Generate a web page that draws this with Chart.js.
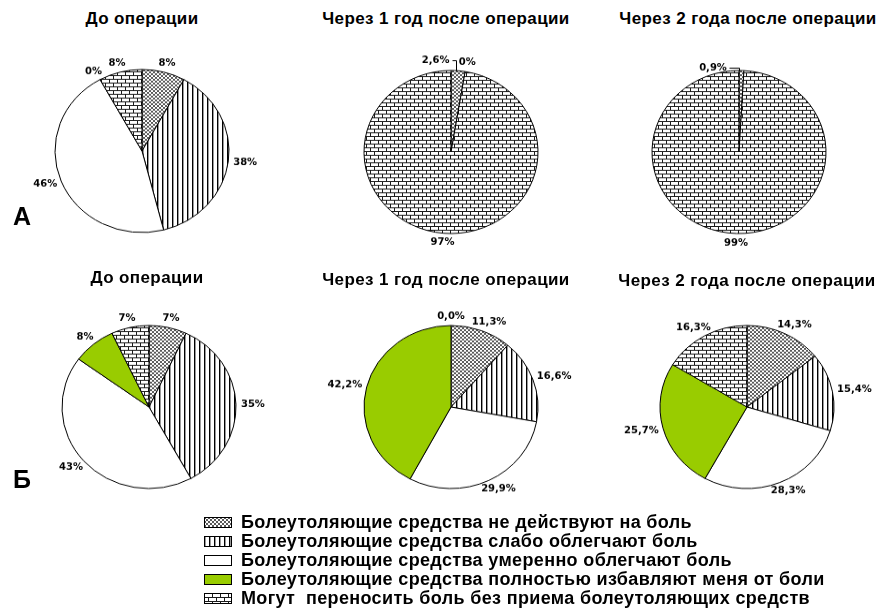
<!DOCTYPE html>
<html><head><meta charset="utf-8">
<script src="https://cdn.jsdelivr.net/npm/chart.js@4.4.1/dist/chart.umd.min.js"></script>
<style>
html,body{margin:0;padding:0;background:#fff;}
#page{position:relative;width:878px;height:615px;overflow:hidden;font-family:"Liberation Sans",Arial,sans-serif;color:#000;background:#fff;}
.title{position:absolute;width:340px;text-align:center;font-weight:bold;font-size:17px;letter-spacing:0.4px;line-height:20px;white-space:nowrap;}
.big{position:absolute;font-weight:bold;font-size:25px;line-height:28px;}
canvas.pie{position:absolute;transform:scale(1,0.937);transform-origin:50% 50%;}
.leg{position:absolute;left:204px;height:19px;width:670px;}
.leg canvas{position:absolute;left:0;top:4px;}
.leg span{position:absolute;left:37px;top:0;font-weight:bold;font-size:18px;white-space:pre;line-height:19px;letter-spacing:0.35px;}
</style>
</head><body>
<div id="page"></div>
<script>
// ---- data ----
const categories = [
  'Болеутоляющие средства не действуют на боль',
  'Болеутоляющие средства слабо облегчают боль',
  'Болеутоляющие средства умеренно облегчают боль',
  'Болеутоляющие средства полностью избавляют меня от боли',
  'Могут  переносить боль без приема болеутоляющих средств'
];
const titles = ['До операции', 'Через 1 год после операции', 'Через 2 года после операции'];
const groupLetters = ['А', 'Б'];

const valuesA0 = [8, 38, 46, 0, 8];
const valuesA1 = [2.6, 0, 0, 0, 97.4];
const valuesA2 = [0.9, 0, 0, 0, 99.1];
const valuesB0 = [7, 35, 43, 8, 7];
const valuesB1 = [11.3, 16.6, 29.9, 42.2, 0];
const valuesB2 = [14.3, 15.4, 28.3, 25.7, 16.3];

const labelsA0 = ['8%', '38%', '46%', '0%', '8%'];
const labelsA1 = ['2,6%', '0%', '', '', '97%'];
const labelsA2 = ['0,9%', '', '', '', '99%'];
const labelsB0 = ['7%', '35%', '43%', '8%', '7%'];
const labelsB1 = ['11,3%', '16,6%', '29,9%', '42,2%', '0,0%'];
const labelsB2 = ['14,3%', '15,4%', '28,3%', '25,7%', '16,3%'];

// ---- layout (positions only) ----
const panels = [
  {cx:142, cy:150.5, values:valuesA0, labels:labelsA0, title:titles[0], tx:142, ty:19},
  {cx:451, cy:151.5, values:valuesA1, labels:labelsA1, title:titles[1], tx:446, ty:19, shift:{0:{dx:-24, dy:-1}}},
  {cx:738.5, cy:151.5, values:valuesA2, labels:labelsA2, title:titles[2], tx:748, ty:19, shift:{0:{dx:-29, dy:7}}},
  {cx:149, cy:406.5, values:valuesB0, labels:labelsB0, title:titles[0], tx:147, ty:278},
  {cx:450.5, cy:407, values:valuesB1, labels:labelsB1, title:titles[1], tx:446, ty:280},
  {cx:746.5, cy:407, values:valuesB2, labels:labelsB2, title:titles[2], tx:747, ty:281}
];
const RADIUS = 87;
const CW = 290, CH = 250;

// ---- patterns ----
function mkTile(w, h, draw){ const c = document.createElement('canvas'); c.width = w; c.height = h; draw(c.getContext('2d')); return c; }
const tiles = [
  mkTile(4,4,x=>{x.fillStyle='#fff';x.fillRect(0,0,4,4);x.fillStyle='#5a5a5a';x.fillRect(0,0,2,2);x.fillRect(2,2,2,2);}),
  mkTile(5,1,x=>{x.fillStyle='#fff';x.fillRect(0,0,5,1);x.fillStyle='#000';x.fillRect(0,0,1,1);x.fillStyle='#9a9a9a';x.fillRect(1,0,1,1);}),
  null,
  null,
  mkTile(8,8,x=>{x.fillStyle='#fff';x.fillRect(0,0,8,8);x.fillStyle='#1a1a1a';x.fillRect(0,0,8,1);x.fillRect(0,4,8,1);x.fillRect(0,1,1,3);x.fillRect(4,5,1,3);})
];
const solid = [null, null, '#ffffff', '#99cc00', null];
function fills(ctx){ return tiles.map((t,i)=> t ? ctx.createPattern(t,'repeat') : solid[i]); }

// ---- label plugin ----
const pieLabels = {
  id: 'pieLabels',
  afterDatasetsDraw(chart, args, opts){
    const ctx = chart.ctx;
    const meta = chart.getDatasetMeta(0);
    ctx.save();
    ctx.font = 'bold 10px "DejaVu Sans"';
    ctx.fillStyle = '#000';
    ctx.strokeStyle = '#000';
    ctx.lineWidth = 1;
    ctx.textAlign = 'center';
    ctx.textBaseline = 'middle';
    meta.data.forEach((arc, i) => {
      const t = opts.texts[i];
      if (!t) return;
      const p = arc.getProps(['startAngle','endAngle','outerRadius','x','y'], true);
      const mid = (p.startAngle + p.endAngle) / 2;
      const w = ctx.measureText(t).width, h = 10;
      const r = p.outerRadius + opts.gap;
      let lx = p.x + Math.cos(mid) * (r + w / 2);
      let ly = p.y + Math.sin(mid) * (r + h / 2);
      const sh = opts.shift && opts.shift[i];
      if (sh) {
        lx += sh.dx; ly += sh.dy;
        const ex = p.x + Math.cos(mid) * p.outerRadius;
        const ey = p.y + Math.sin(mid) * p.outerRadius;
        ctx.beginPath();
        ctx.moveTo(Math.round(lx + w / 2 + 2) + 0.5, Math.round(ly) + 0.5);
        ctx.lineTo(Math.round(ex) - 1.5, Math.round(ly) + 0.5);
        ctx.lineTo(Math.round(ex) - 1.5, Math.round(ey) + 0.5);
        ctx.stroke();
      }
      ctx.fillText(t, lx, ly);
    });
    ctx.restore();
  }
};

const page = document.getElementById('page');

panels.forEach((pn, k) => {
  const tl = document.createElement('div');
  tl.className = 'title';
  tl.textContent = pn.title;
  tl.style.left = (pn.tx - 170) + 'px';
  tl.style.top = (pn.ty - 10) + 'px';
  page.appendChild(tl);

  const cv = document.createElement('canvas');
  cv.className = 'pie';
  cv.width = CW; cv.height = CH;
  cv.style.left = (pn.cx - CW / 2) + 'px';
  cv.style.top = (pn.cy - CH / 2) + 'px';
  page.appendChild(cv);
  const ctx = cv.getContext('2d');
  new Chart(ctx, {
    type: 'pie',
    data: {
      labels: categories,
      datasets: [{
        data: pn.values,
        backgroundColor: fills(ctx),
        borderColor: '#000',
        borderWidth: 1,
        radius: RADIUS
      }]
    },
    options: {
      responsive: false,
      animation: false,
      events: [],
      layout: {padding: 0},
      plugins: {
        legend: {display: false},
        tooltip: {enabled: false},
        title: {display: false},
        pieLabels: {texts: pn.labels, gap: 5, shift: pn.shift || null}
      }
    },
    plugins: [pieLabels]
  });
});

// group letters
[[13, 202], [13, 465]].forEach((p, i) => {
  const d = document.createElement('div');
  d.className = 'big';
  d.textContent = groupLetters[i];
  d.style.left = p[0] + 'px';
  d.style.top = p[1] + 'px';
  page.appendChild(d);
});

// legend
categories.forEach((c, i) => {
  const row = document.createElement('div');
  row.className = 'leg';
  row.style.top = (513 + i * 19) + 'px';
  const sw = document.createElement('canvas');
  sw.width = 28; sw.height = 11;
  const sx = sw.getContext('2d');
  const f = fills(sx)[i];
  sx.fillStyle = f; sx.fillRect(0, 0, 28, 11);
  sx.strokeStyle = '#000'; sx.lineWidth = 1; sx.strokeRect(0.5, 0.5, 27, 10);
  row.appendChild(sw);
  const sp = document.createElement('span');
  sp.textContent = c;
  row.appendChild(sp);
  page.appendChild(row);
});
</script>
</body></html>
